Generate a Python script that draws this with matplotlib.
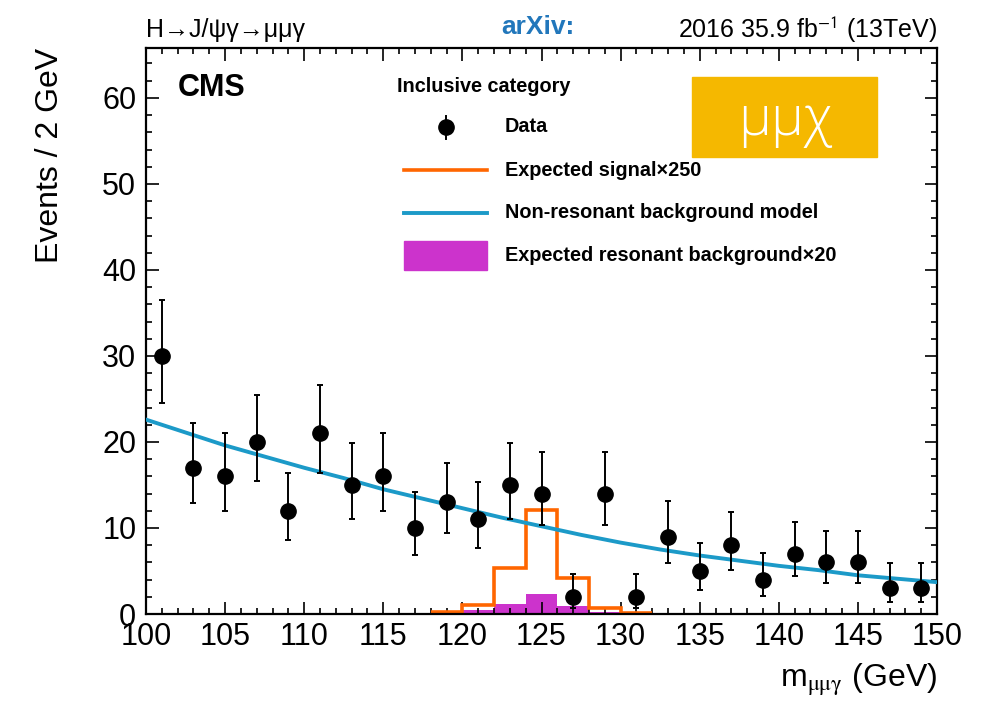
import numpy as np
import matplotlib
matplotlib.use("Agg")
import matplotlib.pyplot as plt
from matplotlib.patches import Rectangle
from matplotlib.ticker import MultipleLocator

plt.rcParams['font.family'] = ['Liberation Sans', 'DejaVu Sans']
plt.rcParams['mathtext.fontset'] = 'stix'

# ---------------- data ----------------
mass = [101, 103, 105, 107, 109, 111, 113, 115, 117, 119, 121, 123, 125,
        127, 129, 131, 133, 135, 137, 139, 141, 143, 145, 147, 149]
events = [30, 17, 16, 20, 12, 21, 15, 16, 10, 13, 11, 15, 14,
          2, 14, 2, 9, 5, 8, 4, 7, 6, 6, 3, 3]
err_low = [24.5, 12.9, 12.0, 15.5, 8.6, 16.4, 11.1, 12.0, 6.9, 9.4, 7.7, 11.1, 10.3,
           0.7, 10.3, 0.7, 5.9, 2.8, 5.1, 2.1, 4.4, 3.6, 3.6, 1.4, 1.4]
err_high = [36.5, 22.2, 21.0, 25.5, 16.4, 26.6, 19.9, 21.0, 14.2, 17.6, 15.4, 19.9, 18.8,
            4.6, 18.8, 4.6, 13.1, 8.3, 11.9, 7.1, 10.7, 9.6, 9.6, 5.9, 5.9]

bkg_mass = [100, 102.5, 105, 107.5, 110, 112.5, 115, 117.5, 120, 122.5, 125,
            127.5, 130, 132.5, 135, 137.5, 140, 142.5, 145, 147.5, 150]
bkg_model = [22.6, 21.1, 19.6, 18.3, 17.0, 15.8, 14.5, 13.4, 12.3, 11.2, 10.2,
             9.2, 8.3, 7.5, 6.8, 6.2, 5.6, 5.1, 4.5, 4.1, 3.7]

hist_edges = [118, 120, 122, 124, 126, 128, 130, 132]
signal_x250 = [0.27, 1.05, 5.4, 12.1, 4.2, 0.66, 0.08]
resonant_x20 = [0.05, 0.47, 1.16, 2.3, 0.93, 0.27, 0.03]

# ---------------- style ----------------
c_sig = '#FF6600'
c_bkg = '#1C9AC8'
c_res = '#CC33CC'
c_box = '#F5B800'

fig = plt.figure(figsize=(9.9, 7.01), dpi=100)
ax = fig.add_axes([146/990, 1-614/701, (937-146)/990, (614-48)/701])

ax.stairs(resonant_x20, hist_edges, fill=True, color=c_res, zorder=1)
ax.stairs(signal_x250, hist_edges, baseline=None, color=c_sig, lw=2.6, zorder=2)
ax.plot(bkg_mass, bkg_model, color=c_bkg, lw=2.8, zorder=3)

ev = np.array(events, float)
yerr = [ev - np.array(err_low), np.array(err_high) - ev]
ax.errorbar(mass, events, yerr=yerr, fmt='o', color='black', ms=11,
            elinewidth=1.4, capsize=2.5, capthick=1.4, zorder=4)

ax.set_xlim(100, 150)
ax.set_ylim(0, 65.8)
ax.xaxis.set_major_locator(MultipleLocator(5))
ax.xaxis.set_minor_locator(MultipleLocator(1))
ax.yaxis.set_major_locator(MultipleLocator(10))
ax.yaxis.set_minor_locator(MultipleLocator(2))
ax.tick_params(which='both', direction='in', top=True, right=True, width=1.2, labelsize=22)
ax.tick_params(which='major', length=9)
ax.tick_params(which='minor', length=4.5)
ax.tick_params(axis='x', pad=6)
ax.tick_params(axis='y', pad=7)
for s in ax.spines.values():
    s.set_linewidth(1.6)

ax.set_ylabel('Events / 2 GeV', fontsize=23)
ax.yaxis.set_label_coords(-0.103, 1.0)
ax.yaxis.label.set_ha('right')
ax.set_xlabel(r'm$_{\mathrm{\mu\mu\gamma}}$ (GeV)', fontsize=23)
ax.xaxis.set_label_coords(1.0, -0.085)
ax.xaxis.label.set_ha('right')

# CMS label
ax.text(0.040, 0.929, 'CMS', transform=ax.transAxes, fontsize=22,
        fontweight='bold', va='center', ha='left')

# legend (manual)
def ax_x(px):
    return (px - 146) / 791
def ax_y(py):
    return (614 - py) / 566

lfs = 14.3
ax.text(ax_x(397), ax_y(86), 'Inclusive category', transform=ax.transAxes,
        fontsize=lfs, fontweight='bold', va='center', ha='left')
ax.plot([ax_x(446)], [ax_y(127)], 'o', color='black', ms=11, transform=ax.transAxes, clip_on=False)
ax.plot([ax_x(446), ax_x(446)], [ax_y(116), ax_y(139)], color='black', lw=1.4,
        transform=ax.transAxes, clip_on=False)
ax.text(ax_x(505), ax_y(127), 'Data', transform=ax.transAxes,
        fontsize=lfs, fontweight='bold', va='center', ha='left')
ax.plot([ax_x(404), ax_x(487)], [ax_y(170)] * 2, color=c_sig, lw=2.6, transform=ax.transAxes)
ax.text(ax_x(505), ax_y(170), 'Expected signal×250', transform=ax.transAxes,
        fontsize=lfs, fontweight='bold', va='center', ha='left')
ax.plot([ax_x(404), ax_x(487)], [ax_y(213)] * 2, color=c_bkg, lw=2.8, transform=ax.transAxes)
ax.text(ax_x(505), ax_y(213), 'Non-resonant background model', transform=ax.transAxes,
        fontsize=lfs, fontweight='bold', va='center', ha='left')
ax.add_patch(Rectangle((ax_x(404), ax_y(270)), ax_x(487) - ax_x(404), ax_y(241) - ax_y(270),
                       transform=ax.transAxes, color=c_res))
ax.text(ax_x(505), ax_y(256), 'Expected resonant background×20', transform=ax.transAxes,
        fontsize=lfs, fontweight='bold', va='center', ha='left')

# orange box
ax.add_patch(Rectangle((ax_x(692), ax_y(157)), ax_x(877) - ax_x(692), ax_y(77) - ax_y(157),
                       transform=ax.transAxes, color=c_box, zorder=5))
ax.text(ax_x(785), ax_y(120), 'μμχ', transform=ax.transAxes, fontsize=40,
        color='white', ha='center', va='center', zorder=6, family=['Open Sans', 'DejaVu Sans'],
        fontweight='light')

# top texts
fig.text(146/990, 1 - 30/701, 'H→J/ψγ→μμγ', fontsize=18, ha='left', va='center',
         family=['Liberation Sans', 'DejaVu Sans'])
fig.text(538/990, 1 - 27/701, 'arXiv:', fontsize=19, ha='center', va='center',
         color='#2277BB', fontweight='bold', fontstretch='condensed')
fig.text(937/990, 1 - 30/701, r'2016 35.9 fb$^{\mathsf{-1}}$ (13TeV)', fontsize=18,
         ha='right', va='center')

fig.savefig('out.png', dpi=100)
